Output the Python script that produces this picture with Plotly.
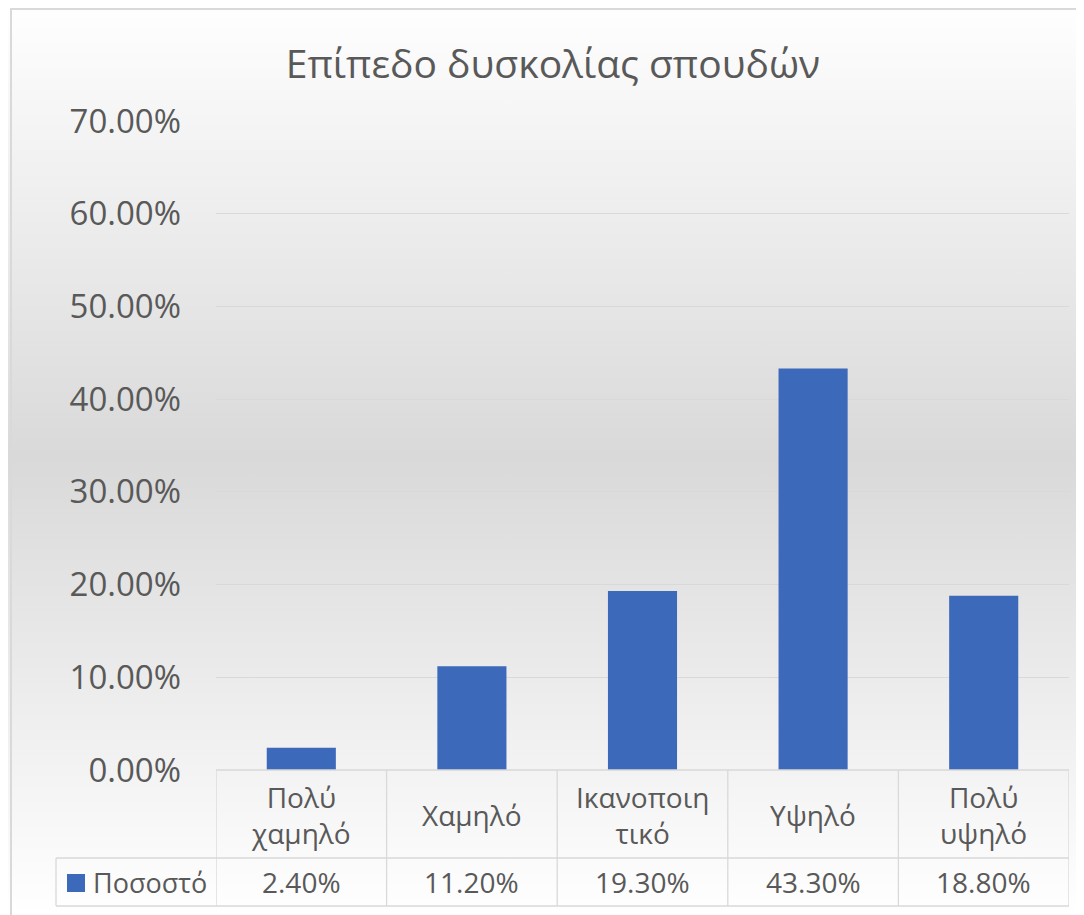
import plotly.graph_objects as go

# data
categories = ["Πολύ<br>χαμηλό", "Χαμηλό", "Ικανοποιη<br>τικό", "Υψηλό", "Πολύ<br>υψηλό"]
values = [0.024, 0.112, 0.193, 0.433, 0.188]
series_name = "Ποσοστό"
title_text = "Επίπεδο δυσκολίας σπουδών"
y_ticks = [0, 0.1, 0.2, 0.3, 0.4, 0.5, 0.6, 0.7]

OFF = 8  # page body margin
W, H = 1084 - OFF, 915 - OFF
L, R, T, B = 216 - OFF, 15, 121 - OFF, 145
pw, ph = W - L - R, H - T - B


def px(xpix):  # page pixel -> paper x
    return (xpix - OFF - L) / pw


def py(ypix):  # page pixel -> paper y
    return (H - B - (ypix - OFF)) / ph


FONT = "Open Sans"
TXT = "#595959"
GRID = "#d9d9d9"
BLUE = "#3d69ba"

fig = go.Figure(go.Bar(
    x=list(range(len(values))), y=values, name=series_name,
    marker=dict(color=BLUE, line_width=0),
    width=0.405, showlegend=False,
))

# background gradient (white -> grey -> white)
svg = ("data:image/svg+xml;utf8,<svg xmlns='http://www.w3.org/2000/svg' width='100' height='100' "
       "preserveAspectRatio='none'><defs><linearGradient id='g' x1='0' y1='0' x2='0' y2='1'>"
       "<stop offset='0' stop-color='%23ffffff'/><stop offset='0.5' stop-color='%23d9d9d9'/>"
       "<stop offset='1' stop-color='%23ffffff'/></linearGradient></defs>"
       "<rect width='100' height='100' fill='url(%23g)'/></svg>")
fig.add_layout_image(source=svg, xref="paper", yref="paper", x=px(0), y=py(0),
                     sizex=1084 / pw, sizey=915 / ph, sizing="stretch",
                     xanchor="left", yanchor="top", layer="below")

shapes = []
line = dict(color=GRID, width=1.3)
row1, row2 = py(858), py(906)
# table verticals at category boundaries
for i in range(len(values) + 1):
    shapes.append(dict(type="line", xref="x", yref="paper", x0=i - 0.5, x1=i - 0.5,
                       y0=0, y1=row2, line=line))
# table horizontals
shapes.append(dict(type="line", xref="paper", yref="paper", x0=0, x1=1, y0=0, y1=0, line=line))
for yy in (row1, row2):
    shapes.append(dict(type="line", xref="paper", yref="paper", x0=px(56), x1=1,
                       y0=yy, y1=yy, line=line))
shapes.append(dict(type="line", xref="paper", yref="paper", x0=px(56), x1=px(56),
                   y0=row1, y1=row2, line=line))
# legend key
shapes.append(dict(type="rect", xref="paper", yref="paper", x0=px(67), x1=px(85),
                   y0=py(892), y1=py(874), fillcolor=BLUE, line_width=0))
# outer chart border
shapes.append(dict(type="path", xref="paper", yref="paper",
                   path=f"M {px(11)},{py(930)} L {px(11)},{py(9)} L {px(1100)},{py(9)}",
                   line=dict(color=GRID, width=2)))

annotations = []
for i, (c, v) in enumerate(zip(categories, values)):
    annotations.append(dict(x=i, y=py(815), xref="x", yref="paper", text=c, showarrow=False,
                            font=dict(family=FONT, size=28, color=TXT), yanchor="middle"))
    annotations.append(dict(x=i, y=py(882), xref="x", yref="paper", text=f"{v * 100:.2f}%",
                            showarrow=False, font=dict(family=FONT, size=28, color=TXT),
                            yanchor="middle"))
annotations.append(dict(x=px(91), y=py(882), xref="paper", yref="paper", text=series_name,
                        showarrow=False, xanchor="left", yanchor="middle",
                        font=dict(family=FONT, size=27, color=TXT)))

fig.update_layout(
    width=W, height=H,
    margin=dict(l=L, r=R, t=T, b=B),
    paper_bgcolor="white", plot_bgcolor="rgba(0,0,0,0)",
    title=dict(text=title_text, x=(553 - OFF) / W, xanchor="center",
               y=1 - (64 - OFF) / H, yanchor="middle",
               font=dict(family=FONT, size=39, color=TXT)),
    xaxis=dict(range=[-0.5, len(values) - 0.5], showticklabels=False, showgrid=False,
               zeroline=False, fixedrange=True),
    yaxis=dict(range=[0, 0.7], tickvals=y_ticks, tickformat=".2%", showgrid=True,
               gridcolor=GRID, gridwidth=1.3, zeroline=False, showline=False,
               ticklabelstandoff=34,
               tickfont=dict(family=FONT, size=33, color=TXT)),
    shapes=shapes, annotations=annotations,
    bargap=0.6,
)

fig.write_html("out.html")
